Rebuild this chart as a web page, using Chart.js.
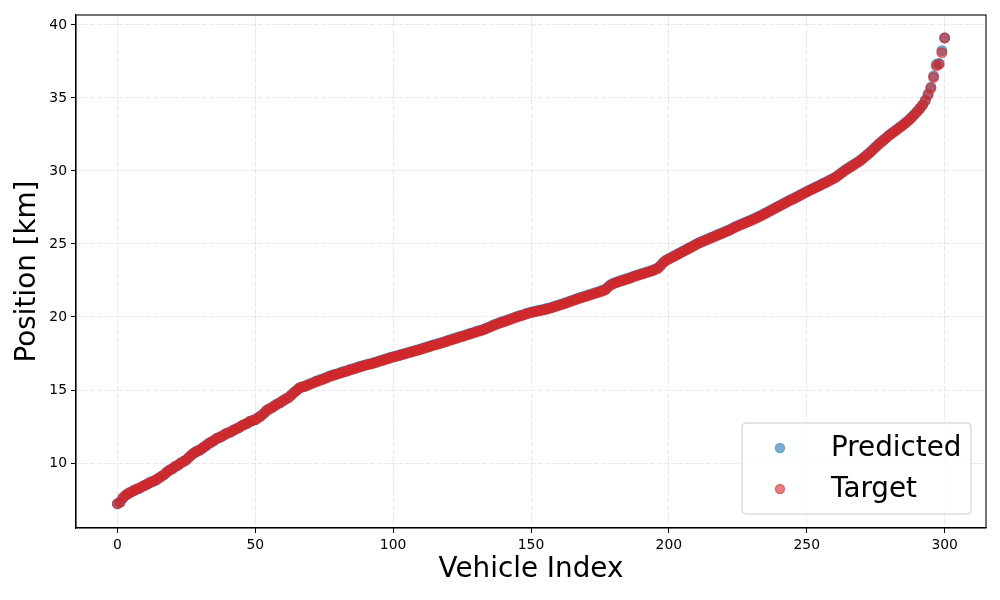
<!DOCTYPE html>
<html>
<head>
<meta charset="utf-8">
<script src="https://cdn.jsdelivr.net/npm/chart.js@4.4.1/dist/chart.umd.min.js"></script>
<style>
  html, body { margin: 0; padding: 0; background: #fff; }
  #wrap { width: 1000px; height: 600px; position: relative; }
</style>
</head>
<body>
<div id="wrap"><canvas id="posChart"></canvas></div>
<script>
// values, one per vehicle index (0..300)
const targetPos = [
  7.20,7.30,7.62,7.78,7.90,8.02,8.10,8.20,8.28,8.38,
  8.46,8.58,8.66,8.74,8.85,8.95,9.08,9.22,9.38,9.50,
  9.62,9.75,9.86,9.98,10.10,10.22,10.38,10.58,10.70,10.80,
  10.90,11.02,11.18,11.30,11.42,11.55,11.66,11.74,11.85,11.95,
  12.04,12.12,12.22,12.32,12.42,12.52,12.62,12.72,12.82,12.90,
  12.98,13.08,13.20,13.38,13.56,13.68,13.80,13.90,14.02,14.14,
  14.24,14.36,14.48,14.62,14.80,14.98,15.12,15.20,15.26,15.32,
  15.40,15.48,15.56,15.62,15.70,15.76,15.84,15.92,15.98,16.04,
  16.10,16.16,16.22,16.28,16.34,16.40,16.46,16.52,16.58,16.64,
  16.70,16.74,16.78,16.84,16.90,16.96,17.02,17.08,17.14,17.20,
  17.25,17.30,17.35,17.40,17.46,17.52,17.56,17.62,17.68,17.72,
  17.78,17.84,17.90,17.96,18.02,18.08,18.12,18.18,18.24,18.30,
  18.36,18.42,18.48,18.54,18.60,18.66,18.72,18.78,18.84,18.90,
  18.96,19.02,19.08,19.14,19.22,19.30,19.38,19.46,19.54,19.60,
  19.66,19.72,19.80,19.86,19.94,20.00,20.06,20.12,20.18,20.24,
  20.30,20.34,20.38,20.42,20.46,20.50,20.55,20.60,20.66,20.72,
  20.78,20.84,20.90,20.96,21.04,21.10,21.18,21.24,21.30,21.36,
  21.42,21.48,21.54,21.60,21.66,21.72,21.78,21.86,22.04,22.20,
  22.28,22.36,22.42,22.48,22.54,22.60,22.66,22.74,22.80,22.86,
  22.92,22.98,23.04,23.10,23.16,23.24,23.32,23.50,23.72,23.86,
  23.96,24.06,24.16,24.26,24.36,24.46,24.56,24.66,24.76,24.86,
  24.96,25.06,25.14,25.22,25.30,25.38,25.46,25.54,25.62,25.70,
  25.78,25.86,25.94,26.04,26.14,26.22,26.30,26.38,26.46,26.54,
  26.62,26.70,26.80,26.88,26.98,27.08,27.18,27.28,27.38,27.48,
  27.58,27.68,27.78,27.88,27.98,28.06,28.16,28.26,28.36,28.46,
  28.56,28.66,28.74,28.84,28.92,29.02,29.12,29.20,29.30,29.40,
  29.50,29.62,29.76,29.90,30.04,30.16,30.28,30.40,30.52,30.64,
  30.78,30.94,31.10,31.26,31.44,31.62,31.80,31.96,32.12,32.28,
  32.44,32.58,32.72,32.86,33.00,33.14,33.30,33.46,33.64,33.84,
  34.04,34.26,34.50,34.80,35.20,35.66,36.40,37.18,37.30,38.10,
  39.10
];
const predictedPos = [
  7.22,7.34,7.60,7.80,7.94,8.00,8.14,8.22,8.26,8.40,
  8.50,8.56,8.70,8.76,8.82,8.98,9.10,9.20,9.40,9.54,
  9.60,9.78,9.84,10.02,10.12,10.20,10.42,10.56,10.72,10.84,
  10.88,11.06,11.16,11.34,11.44,11.52,11.70,11.76,11.82,11.98,
  12.08,12.10,12.26,12.34,12.40,12.56,12.64,12.70,12.86,12.92,
  12.96,13.12,13.24,13.36,13.60,13.72,13.78,13.94,14.06,14.12,
  14.28,14.40,14.46,14.66,14.84,14.96,15.16,15.22,15.24,15.36,
  15.44,15.50,15.60,15.66,15.74,15.80,15.88,15.96,16.02,16.08,
  16.12,16.20,16.26,16.30,16.38,16.44,16.48,16.56,16.62,16.66,
  16.72,16.78,16.80,16.88,16.92,17.00,17.04,17.12,17.16,17.24,
  17.28,17.32,17.38,17.44,17.48,17.54,17.60,17.64,17.70,17.76,
  17.80,17.88,17.94,17.98,18.06,18.10,18.16,18.22,18.26,18.34,
  18.40,18.46,18.52,18.58,18.64,18.70,18.74,18.82,18.88,18.92,
  19.00,19.06,19.10,19.18,19.26,19.32,19.42,19.50,19.56,19.64,
  19.70,19.76,19.82,19.90,19.96,20.04,20.10,20.14,20.22,20.28,
  20.32,20.38,20.42,20.46,20.50,20.54,20.60,20.64,20.70,20.76,
  20.82,20.88,20.94,21.00,21.08,21.14,21.20,21.28,21.34,21.40,
  21.46,21.52,21.58,21.64,21.70,21.76,21.84,21.90,22.08,22.22,
  22.32,22.38,22.46,22.52,22.58,22.64,22.70,22.78,22.84,22.90,
  22.96,23.02,23.08,23.14,23.20,23.28,23.36,23.54,23.74,23.90,
  24.00,24.10,24.20,24.30,24.40,24.50,24.60,24.70,24.80,24.90,
  25.00,25.10,25.18,25.26,25.34,25.42,25.50,25.58,25.66,25.74,
  25.82,25.90,25.98,26.08,26.18,26.26,26.34,26.42,26.50,26.58,
  26.66,26.74,26.84,26.92,27.02,27.12,27.22,27.32,27.42,27.52,
  27.62,27.72,27.82,27.92,28.02,28.10,28.20,28.30,28.40,28.50,
  28.60,28.70,28.78,28.88,28.96,29.06,29.16,29.24,29.34,29.44,
  29.54,29.66,29.80,29.94,30.08,30.20,30.32,30.44,30.56,30.68,
  30.82,30.98,31.14,31.30,31.48,31.66,31.84,32.00,32.16,32.32,
  32.48,32.62,32.76,32.90,33.04,33.18,33.34,33.50,33.68,33.88,
  34.08,34.30,34.54,34.86,35.28,35.74,36.50,37.30,37.36,38.24,
  39.12
];
const xTickVals = [0, 50, 100, 150, 200, 250, 300];
const yTickVals = [10, 15, 20, 25, 30, 35, 40];
const seriesNames = ['Predicted', 'Target'];

const FONT = "'DejaVu Sans', sans-serif";
const BLUE = 'rgba(31,119,180,0.6)';
const RED = 'rgba(214,39,40,0.6)';

function toPoints(arr) {
  return arr.map(function (v, i) { return { x: i, y: v }; });
}

// top/right spines + matplotlib-like legend box
const framePlugin = {
  id: 'frame',
  afterDraw: function (chart) {
    const ctx = chart.ctx;
    const a = chart.chartArea;
    ctx.save();
    ctx.strokeStyle = '#000';
    ctx.lineWidth = 1.1;
    ctx.strokeRect(a.left, a.top, a.right - a.left, a.bottom - a.top);

    // legend
    const bx = 742, by = 423, bw = 229, bh = 91, r = 4;
    ctx.beginPath();
    ctx.moveTo(bx + r, by);
    ctx.arcTo(bx + bw, by, bx + bw, by + bh, r);
    ctx.arcTo(bx + bw, by + bh, bx, by + bh, r);
    ctx.arcTo(bx, by + bh, bx, by, r);
    ctx.arcTo(bx, by, bx + bw, by, r);
    ctx.closePath();
    ctx.fillStyle = 'rgba(255,255,255,0.8)';
    ctx.fill();
    ctx.strokeStyle = '#cccccc';
    ctx.lineWidth = 1;
    ctx.stroke();

    const cols = [BLUE, RED];
    const rows = [448, 489];
    ctx.font = '27.8px ' + FONT;
    ctx.textBaseline = 'middle';
    ctx.textAlign = 'left';
    for (let i = 0; i < seriesNames.length; i++) {
      ctx.beginPath();
      ctx.arc(780, rows[i], 4.6, 0, Math.PI * 2);
      ctx.fillStyle = cols[i];
      ctx.fill();
      ctx.strokeStyle = cols[i];
      ctx.lineWidth = 1.2;
      ctx.stroke();
      ctx.fillStyle = '#000';
      ctx.fillText(seriesNames[i], 831, rows[i] + 1);
    }
    ctx.restore();
  }
};

const ctxEl = document.getElementById('posChart');
new Chart(ctxEl, {
  type: 'scatter',
  data: {
    datasets: [{
      label: seriesNames[0],
      data: toPoints(predictedPos),
      backgroundColor: BLUE,
      borderColor: BLUE,
      borderWidth: 1.2,
      pointRadius: 4.9,
      order: 2
    }, {
      label: seriesNames[1],
      data: toPoints(targetPos),
      backgroundColor: RED,
      borderColor: RED,
      borderWidth: 1.2,
      pointRadius: 4.9,
      order: 1
    }]
  },
  options: {
    responsive: true,
    maintainAspectRatio: false,
    animation: false,
    events: [],
    layout: {
      padding: { left: 0, top: 15, right: 14, bottom: 0 }
    },
    scales: {
      x: {
        type: 'linear',
        min: -15,
        max: 315,
        afterBuildTicks: function (scale) {
          scale.ticks = xTickVals.map(function (v) { return { value: v }; });
        },
        afterFit: function (scale) { scale.height = 72; },
        border: { display: true, color: '#000', width: 1.1, dash: [5, 2] },
        grid: {
          display: true,
          color: 'rgba(176,176,176,0.35)',
          lineWidth: 0.8,
          drawTicks: true,
          tickLength: 5,
          tickColor: '#000',
          tickWidth: 1,
          tickBorderDash: []
        },
        ticks: {
          color: '#000',
          padding: 4,
          maxRotation: 0,
          font: { family: FONT, size: 13.9 }
        },
        title: {
          display: true,
          text: 'Vehicle Index',
          color: '#000',
          padding: { top: 0, bottom: 14 },
          font: { family: FONT, size: 27.8 }
        }
      },
      y: {
        type: 'linear',
        min: 5.55,
        max: 40.68,
        afterBuildTicks: function (scale) {
          scale.ticks = yTickVals.map(function (v) { return { value: v }; });
        },
        afterFit: function (scale) { scale.width = 76; },
        border: { display: true, color: '#000', width: 1.1, dash: [5, 2] },
        grid: {
          display: true,
          color: 'rgba(176,176,176,0.35)',
          lineWidth: 0.8,
          drawTicks: true,
          tickLength: 5,
          tickColor: '#000',
          tickWidth: 1,
          tickBorderDash: []
        },
        ticks: {
          color: '#000',
          padding: 4,
          font: { family: FONT, size: 13.9 }
        },
        title: {
          display: true,
          text: 'Position [km]',
          color: '#000',
          padding: { top: 11, bottom: 0 },
          font: { family: FONT, size: 27.8 }
        }
      }
    },
    plugins: {
      legend: { display: false },
      tooltip: { enabled: false }
    }
  },
  plugins: [framePlugin]
});
</script>
</body>
</html>
